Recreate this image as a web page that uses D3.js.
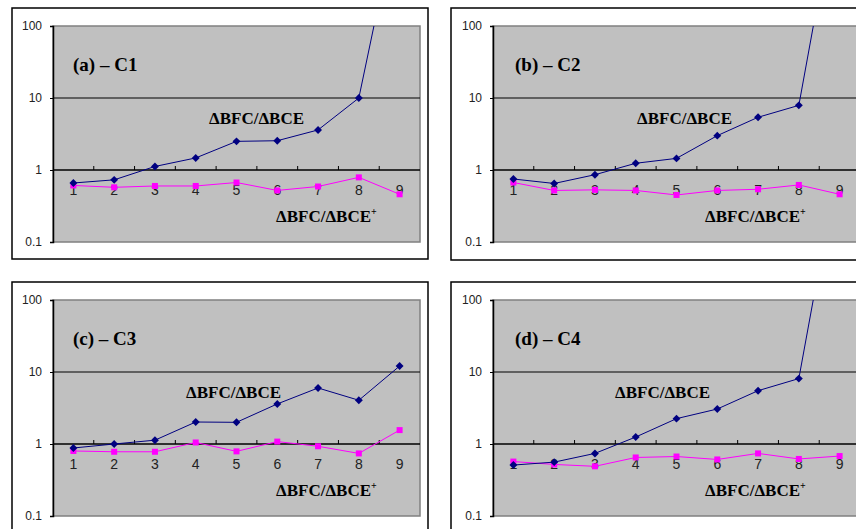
<!DOCTYPE html>
<html>
<head>
<meta charset="utf-8">
<script src="https://cdn.jsdelivr.net/npm/d3@7"></script>
<style>
  body { margin: 0; background: #fff; }
  svg { display: block; }
</style>
</head>
<body>
<div id="chart"></div>
<script>
// categories along the x axis
const categories = [1, 2, 3, 4, 5, 6, 7, 8, 9];
const yTicks = [0.1, 1, 10, 100];

// ΔBFC/ΔBCE (blue) and ΔBFC/ΔBCE+ (pink) for each case
const c1Blue = [0.66, 0.73, 1.12, 1.47, 2.5, 2.55, 3.6, 10, 5000];
const c1Pink = [0.61, 0.575, 0.6, 0.6, 0.67, 0.52, 0.59, 0.79, 0.46];
const c2Blue = [0.75, 0.65, 0.86, 1.24, 1.45, 3.0, 5.4, 7.9, 10000];
const c2Pink = [0.67, 0.52, 0.53, 0.52, 0.45, 0.52, 0.54, 0.62, 0.46];
const c3Blue = [0.88, 1.0, 1.13, 2.02, 2.0, 3.6, 6.0, 4.05, 12.1];
const c3Pink = [0.8, 0.78, 0.78, 1.05, 0.79, 1.08, 0.93, 0.74, 1.56];
const c4Blue = [0.51, 0.56, 0.74, 1.25, 2.25, 3.06, 5.5, 8.1, 10000];
const c4Pink = [0.57, 0.52, 0.49, 0.65, 0.67, 0.61, 0.74, 0.62, 0.68];

const titles = ['(a) – C1', '(b) – C2', '(c) – C3', '(d) – C4'];

const width = 856, height = 529;

// frame and plot rectangles for each panel
const panels = [
  {title: titles[0], blue: c1Blue, pink: c1Pink, fx: 12, fy: 8, fw: 416, fh: 251, px: 53, py: 26, lab1: 156, lab2: 223},
  {title: titles[1], blue: c2Blue, pink: c2Pink, fx: 451, fy: 8, fw: 416, fh: 252, px: 493, py: 26, lab1: 144, lab2: 212},
  {title: titles[2], blue: c3Blue, pink: c3Pink, fx: 12, fy: 282, fw: 416, fh: 252, px: 53, py: 300, lab1: 133, lab2: 223},
  {title: titles[3], blue: c4Blue, pink: c4Pink, fx: 451, fy: 282, fw: 416, fh: 252, px: 493, py: 300, lab1: 122, lab2: 212}
];
const plotW = 367, plotH = 216;

const svg = d3.select('#chart').append('svg')
  .attr('width', width).attr('height', height)
  .attr('viewBox', [0, 0, width, height]);

const serif = '"Liberation Serif", "Times New Roman", serif';
const sans = '"Liberation Sans", Arial, sans-serif';

panels.forEach((p, k) => {
  svg.append('rect')
    .attr('x', p.fx).attr('y', p.fy)
    .attr('width', p.fw).attr('height', p.fh)
    .attr('fill', '#fff').attr('stroke', '#000').attr('stroke-width', 1.5);

  const g = svg.append('g').attr('transform', `translate(${p.px},${p.py})`);

  const x = d3.scaleBand().domain(categories).range([0, plotW]);
  const y = d3.scaleLog().domain([0.1, 100]).range([plotH, 0]);

  g.append('rect')
    .attr('width', plotW).attr('height', plotH)
    .attr('fill', '#c0c0c0').attr('stroke', '#808080').attr('stroke-width', 1.5);

  // gridline at 10 (1 is the category axis)
  g.append('line')
    .attr('x1', 0).attr('x2', plotW)
    .attr('y1', y(10)).attr('y2', y(10))
    .attr('stroke', '#000').attr('stroke-width', 1);

  // y axis
  const yAxis = g.append('g')
    .call(d3.axisLeft(y).tickValues(yTicks).tickSize(3).tickFormat(d => d < 1 ? '0.1' : d));
  yAxis.select('.domain').attr('stroke', '#000').attr('stroke-width', 1.5);
  yAxis.selectAll('text').attr('font-family', sans).attr('font-size', 12).attr('fill', '#222').attr('x', -11);

  // category axis crossing at 1, ticks pointing up at band edges
  const ax = g.append('g').attr('transform', `translate(0,${y(1)})`);
  ax.append('line').attr('x1', 0).attr('x2', plotW)
    .attr('stroke', '#000').attr('stroke-width', 1.5);
  ax.selectAll('line.tick')
    .data(categories.slice(1))
    .join('line').attr('class', 'tick')
    .attr('x1', d => x(d)).attr('x2', d => x(d))
    .attr('y1', 0).attr('y2', -4)
    .attr('stroke', '#000');
  ax.selectAll('text')
    .data(categories)
    .join('text')
    .attr('x', d => x(d) + x.bandwidth() / 2)
    .attr('y', 25)
    .attr('text-anchor', 'middle')
    .attr('font-family', sans).attr('font-size', 14)
    .attr('fill', '#222')
    .text(d => d);

  // series, clipped to the plot
  const clipId = 'clip' + k;
  g.append('clipPath').attr('id', clipId)
    .append('rect').attr('width', plotW).attr('height', plotH);
  const s = g.append('g').attr('clip-path', `url(#${clipId})`);

  const line = d3.line()
    .x((d, i) => x(categories[i]) + x.bandwidth() / 2)
    .y(d => y(d));

  s.append('path').datum(p.pink)
    .attr('d', line).attr('fill', 'none')
    .attr('stroke', '#ff00ff').attr('stroke-width', 1);
  s.selectAll('rect.pm').data(p.pink).join('rect').attr('class', 'pm')
    .attr('x', (d, i) => x(categories[i]) + x.bandwidth() / 2 - 3)
    .attr('y', d => y(d) - 3)
    .attr('width', 6).attr('height', 6)
    .attr('fill', '#ff00ff');

  s.append('path').datum(p.blue)
    .attr('d', line).attr('fill', 'none')
    .attr('stroke', '#000080').attr('stroke-width', 1);
  s.selectAll('path.bm').data(p.blue).join('path').attr('class', 'bm')
    .attr('transform', (d, i) => `translate(${x(categories[i]) + x.bandwidth() / 2},${y(d)})`)
    .attr('d', d3.symbol(d3.symbolDiamond2, 40))
    .attr('fill', '#000080');

  // labels
  g.append('text')
    .attr('x', k % 2 ? 22 : 20).attr('y', 45)
    .attr('font-family', serif).attr('font-weight', 'bold').attr('font-size', 19)
    .text(p.title);
  g.append('text')
    .attr('x', p.lab1).attr('y', 98)
    .attr('font-family', serif).attr('font-weight', 'bold').attr('font-size', 17)
    .text('ΔBFC/ΔBCE');
  const t2 = g.append('text')
    .attr('x', p.lab2).attr('y', 196)
    .attr('font-family', serif).attr('font-weight', 'bold').attr('font-size', 17);
  t2.append('tspan').text('ΔBFC/ΔBCE');
  t2.append('tspan').attr('font-size', 10).attr('dy', -7).text('+');
});
</script>
</body>
</html>
